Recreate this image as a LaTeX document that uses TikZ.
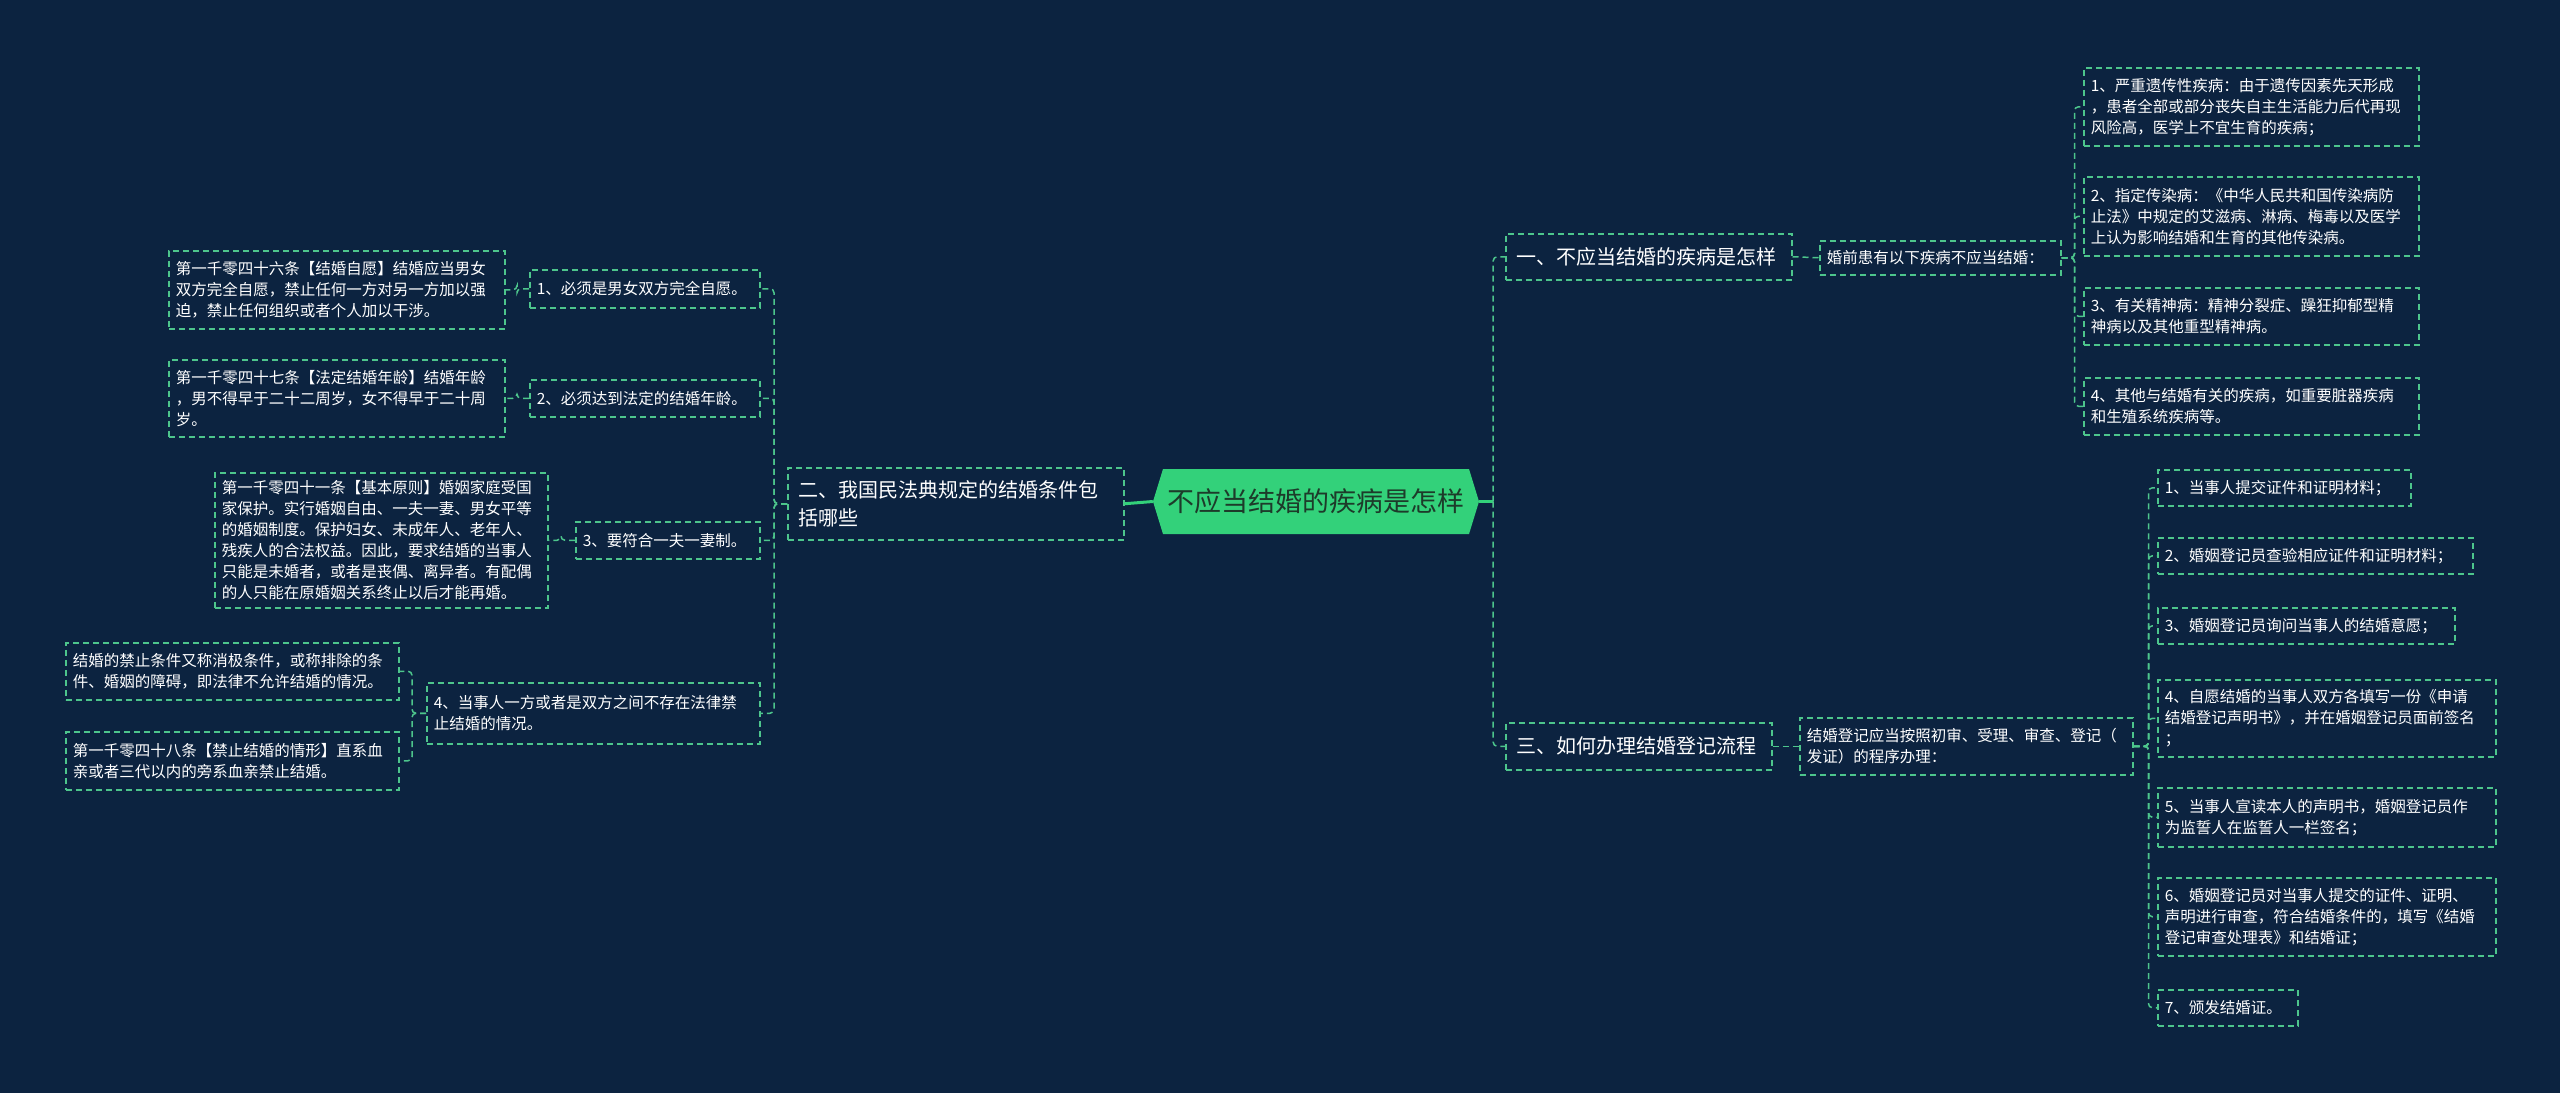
\documentclass[tikz,border=0pt]{standalone}
\usepackage{fontspec}
\setmainfont{Noto Sans CJK SC}
\usetikzlibrary{calc}
\definecolor{bgc}{HTML}{0C2340}
\definecolor{lnc}{HTML}{4DC58C}
\definecolor{ctr}{HTML}{33D17A}
\definecolor{ctxt}{HTML}{1D3B2A}
\tikzset{
  box/.style={draw=lnc, line width=1.5pt, dash pattern=on 6pt off 4pt, text=white, anchor=north west, align=left, inner xsep=7pt, inner ysep=3pt, font=\fontsize{15.5}{21}\selectfont},
  bigbox/.style={box, inner xsep=11pt, font=\fontsize{20}{28}\selectfont},
  conn/.style={draw=lnc, line width=1.5pt, dash pattern=on 6pt off 4pt, rounded corners=4pt},
  solidconn/.style={draw=ctr, line width=3pt},
}
\begin{document}
\begin{tikzpicture}[x=1pt,y=-1pt]
\fill[bgc] (0,0) rectangle (2560,1093);
\useasboundingbox (0,0) rectangle (2560,1093);
% center
\fill[ctr] (1153,501.5) -- (1163,469) -- (1469,469) -- (1479,501.5) -- (1469,534) -- (1163,534) -- cycle;
\node[text=ctxt, font=\fontsize{27}{32}\selectfont, minimum width=326pt, minimum height=65pt, inner sep=0pt] (C) at (1316,501.5) {不应当结婚的疾病是怎样};
% left level 1
\node[bigbox, minimum width=336pt, minimum height=72pt, text width=314pt] (LB) at (787,467) {二、我国民法典规定的结婚条件包\\括哪些};
% left level 2
\node[box, minimum width=230pt, minimum height=38pt, text width=216pt] (L1) at (529,269) {1、必须是男女双方完全自愿。};
\node[box, minimum width=230pt, minimum height=37pt, text width=216pt] (L2) at (529,379) {2、必须达到法定的结婚年龄。};
\node[box, minimum width=184pt, minimum height=37pt, text width=170pt] (L3) at (575,521) {3、要符合一夫一妻制。};
\node[box, minimum width=333pt, minimum height=61pt, text width=319pt] (L4) at (426,682) {4、当事人一方或者是双方之间不存在法律禁\\止结婚的情况。};
% left level 3
\node[box, minimum width=336pt, minimum height=78pt, text width=322pt] (L1a) at (168,250) {第一千零四十六条【结婚自愿】结婚应当男女\\双方完全自愿，禁止任何一方对另一方加以强\\迫，禁止任何组织或者个人加以干涉。};
\node[box, minimum width=336pt, minimum height=77pt, text width=322pt] (L2a) at (168,359) {第一千零四十七条【法定结婚年龄】结婚年龄\\，男不得早于二十二周岁，女不得早于二十周\\岁。};
\node[box, minimum width=333pt, minimum height=135pt, text width=319pt] (L3a) at (214,472) {第一千零四十一条【基本原则】婚姻家庭受国\\家保护。实行婚姻自由、一夫一妻、男女平等\\的婚姻制度。保护妇女、未成年人、老年人、\\残疾人的合法权益。因此，要求结婚的当事人\\只能是未婚者，或者是丧偶、离异者。有配偶\\的人只能在原婚姻关系终止以后才能再婚。};
\node[box, minimum width=333pt, minimum height=57pt, text width=319pt] (L4a) at (65,642) {结婚的禁止条件又称消极条件，或称排除的条\\件、婚姻的障碍，即法律不允许结婚的情况。};
\node[box, minimum width=333pt, minimum height=58pt, text width=319pt] (L4b) at (65,731) {第一千零四十八条【禁止结婚的情形】直系血\\亲或者三代以内的旁系血亲禁止结婚。};
% right level 1
\node[bigbox, minimum width=286pt, minimum height=46pt, text width=264pt] (R1) at (1505,233) {一、不应当结婚的疾病是怎样};
\node[bigbox, minimum width=266pt, minimum height=47pt, text width=244pt] (R3) at (1505,722) {三、如何办理结婚登记流程};
% right level 2
\node[box, minimum width=241pt, minimum height=34pt, text width=227pt] (R1c) at (1819,240) {婚前患有以下疾病不应当结婚：};
\node[box, minimum width=333pt, minimum height=57pt, text width=319pt] (R3c) at (1799,717) {结婚登记应当按照初审、受理、审查、登记（\\发证）的程序办理：};
% right level 3 (diseases)
\node[box, minimum width=335pt, minimum height=78pt, text width=321pt] (Ra) at (2083,67) {1、严重遗传性疾病：由于遗传因素先天形成\\，患者全部或部分丧失自主生活能力后代再现\\风险高，医学上不宜生育的疾病；};
\node[box, minimum width=335pt, minimum height=79pt, text width=321pt] (Rb) at (2083,176) {2、指定传染病：《中华人民共和国传染病防\\止法》中规定的艾滋病、淋病、梅毒以及医学\\上认为影响结婚和生育的其他传染病。};
\node[box, minimum width=335pt, minimum height=57pt, text width=321pt] (Rc) at (2083,287) {3、有关精神病：精神分裂症、躁狂抑郁型精\\神病以及其他重型精神病。};
\node[box, minimum width=335pt, minimum height=57pt, text width=321pt] (Rd) at (2083,377) {4、其他与结婚有关的疾病，如重要脏器疾病\\和生殖系统疾病等。};
% right level 3 (procedure)
\node[box, minimum width=253pt, minimum height=36pt, text width=239pt] (S1) at (2157,469) {1、当事人提交证件和证明材料；};
\node[box, minimum width=315pt, minimum height=36pt, text width=301pt] (S2) at (2157,537) {2、婚姻登记员查验相应证件和证明材料；};
\node[box, minimum width=297pt, minimum height=36pt, text width=283pt] (S3) at (2157,607) {3、婚姻登记员询问当事人的结婚意愿；};
\node[box, minimum width=338pt, minimum height=77pt, text width=324pt] (S4) at (2157,679) {4、自愿结婚的当事人双方各填写一份《申请\\结婚登记声明书》，并在婚姻登记员面前签名\\；};
\node[box, minimum width=338pt, minimum height=59pt, text width=324pt] (S5) at (2157,787) {5、当事人宣读本人的声明书，婚姻登记员作\\为监誓人在监誓人一栏签名；};
\node[box, minimum width=338pt, minimum height=78pt, text width=324pt] (S6) at (2157,877) {6、婚姻登记员对当事人提交的证件、证明、\\声明进行审查，符合结婚条件的，填写《结婚\\登记审查处理表》和结婚证；};
\node[box, minimum width=140pt, minimum height=36pt, text width=126pt] (S7) at (2157,989) {7、颁发结婚证。};
% connectors
\draw[solidconn] (C.west) -- (LB.east);
\coordinate (CR) at ([xshift=14pt]C.east);
\draw[solidconn] (C.east) -- (CR);
\draw[conn] (CR) |- (R1.west);
\draw[conn] (CR) |- (R3.west);
\foreach \n in {L1,L2,L3,L4} \draw[conn] (LB.west) -- ([xshift=-13pt]LB.west) |- (\n.east);
\draw[conn] (L1.west) -- ([xshift=-12pt]L1.west) |- (L1a.east);
\draw[conn] (L2.west) -- ([xshift=-12pt]L2.west) |- (L2a.east);
\draw[conn] (L3.west) -- ([xshift=-14pt]L3.west) |- (L3a.east);
\draw[conn] (L4.west) -- ([xshift=-14pt]L4.west) |- (L4a.east);
\draw[conn] (L4.west) -- ([xshift=-14pt]L4.west) |- (L4b.east);
\draw[conn] (R1.east) -- (R1c.west);
\draw[conn] (R3.east) -- (R3c.west);
\foreach \n in {Ra,Rb,Rc,Rd} \draw[conn] (R1c.east) -- ([xshift=13pt]R1c.east) |- (\n.west);
\foreach \n in {S1,S2,S3,S4,S5,S6,S7} \draw[conn] (R3c.east) -- ([xshift=15pt]R3c.east) |- (\n.west);
\end{tikzpicture}
\end{document}
